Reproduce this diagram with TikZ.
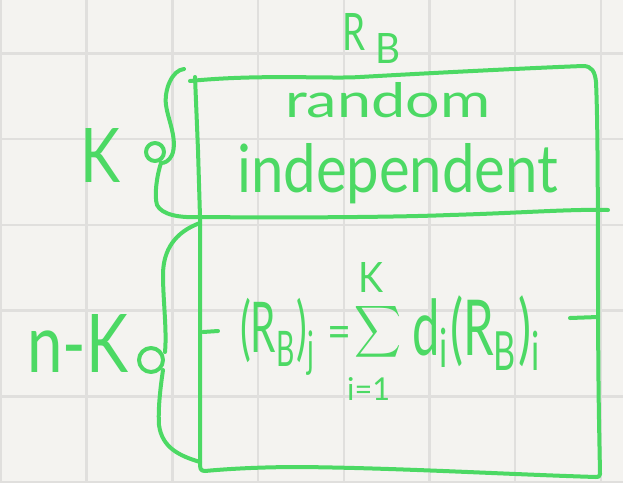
\documentclass[tikz,border=0pt]{standalone}
\usepackage{fontspec}
\setmainfont{Lato}
\definecolor{pen}{RGB}{76,217,100}
\definecolor{paper}{RGB}{244,243,240}
\definecolor{gridc}{RGB}{224,223,221}
\begin{document}
\begin{tikzpicture}[x=1pt,y=-1pt,
  penline/.style={draw=pen,line width=4pt,line cap=round,line join=round},
  hw/.style={text=pen,inner sep=0pt},
  gridline/.style={draw=gridc,line width=2.5pt}]
\useasboundingbox[fill=paper] (0,0) rectangle (623,483);
% grid
\foreach \x in {1,86.7,172.4,258.1,343.8,429.5,515.2,600.9}
  \draw[gridline] (\x,0) -- (\x,483);
\foreach \y in {53.5,139.2,224.9,310.6,396.3,482}
  \draw[gridline] (0,\y) -- (623,\y);
% box corners
\coordinate (tl) at (195,77);
\coordinate (ml) at (200,217);
\coordinate (bl) at (200,462);
\coordinate (mr) at (608,210);
% box outline
\draw[penline] (190,81) .. controls (260,74) and (330,79) .. (360,77)
  .. controls (430,73) and (530,68) .. (583,66)
  .. controls (592,66) and (595,72) .. (596,82)
  .. controls (599,150) and (597,300) .. (599,420) -- (600,474)
  .. controls (600,477) and (598,477) .. (596,477)
  .. controls (500,474) and (400,468) .. (300,467)
  .. controls (250,467) and (215,470) .. (205,471)
  .. controls (200,471) and (200,468) .. (bl);
\draw[penline] (tl) -- (198,150) -- (ml) -- (bl);
\draw[penline] (ml) .. controls (300,218) and (400,217) .. (450,215)
  .. controls (520,213) and (570,209) .. (mr);
% ticks
\draw[penline] (203,332) -- (218,331);
\draw[penline] (570,318) -- (598,317);
% upper brace
\draw[penline] (184,69) .. controls (172,70) and (164,90) .. (166,105)
  .. controls (168,120) and (178,140) .. (172,155)
  .. controls (169,161) and (165,163) .. (161,163);
\draw[penline] (155,152) circle (9);
\draw[penline] (161,163) .. controls (157,175) and (154,195) .. (157,205)
  .. controls (162,215) and (180,218) .. (ml);
% lower brace
\draw[penline] (200,223) .. controls (175,232) and (163,250) .. (163,275)
  .. controls (163,300) and (167,330) .. (165,352);
\draw[penline] (151,360) circle (12);
\draw[penline] (163,370) .. controls (160,390) and (158,410) .. (159,425)
  .. controls (162,448) and (180,456) .. (bl);
% texts
\node[hw,anchor=base west] (rbR) at (342,50) {\resizebox{23pt}{37pt}{R}};
\node[hw,anchor=base west] (rbB) at (375,63) {\resizebox{25pt}{30pt}{B}};
\node[hw,anchor=base west] (random) at (285,117) {\resizebox{205pt}{35pt}{random}};
\node[hw,anchor=base west] (indep) at (237,192) {\resizebox{321pt}{49pt}{independent}};
\node[hw,anchor=base west] (k) at (80,182) {\resizebox{40pt}{54pt}{K}};
\node[hw,anchor=base west] (nk) at (27,372) {\resizebox{101pt}{58pt}{n-K}};
% formula
\node[hw,anchor=north west] (lhs) at (240,298)
  {\resizebox*{76pt}{77pt}{$\mbox{(R}_{\mbox{\scriptsize B}}\mbox{)}_{\mbox{\scriptsize j}}$}};
\node[hw,anchor=base] (eq) at (339,348) {\resizebox{24pt}{22pt}{=}};
\node[hw] (sum) at (378,332) {\resizebox*{47pt}{58pt}{$\displaystyle\sum$}};
\node[hw,anchor=base west] (sumtop) at (358,292) {\resizebox{25pt}{30pt}{K}};
\node[hw,anchor=base west] (sumbot) at (347,400) {\resizebox{43pt}{23pt}{i=1}};
\node[hw,anchor=north west] (rhs) at (412,295)
  {\resizebox*{130pt}{75pt}{$\mbox{d}_{\mbox{\scriptsize i}}\mbox{(R}_{\mbox{\scriptsize B}}\mbox{)}_{\mbox{\scriptsize i}}$}};
\end{tikzpicture}
\end{document}
